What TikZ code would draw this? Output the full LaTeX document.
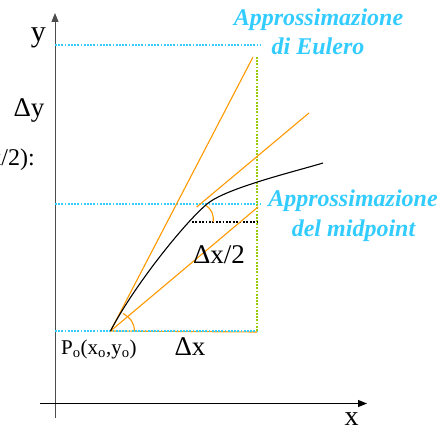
\documentclass[tikz,border=0pt]{standalone}
\usepackage{fontspec}
\setmainfont{Liberation Serif}
\usetikzlibrary{arrows.meta}
\definecolor{skyb}{RGB}{51,204,255}
\definecolor{orng}{RGB}{255,153,0}
\definecolor{grn}{RGB}{153,204,0}
\begin{document}
\begin{tikzpicture}[x=1pt,y=-1pt,
  axis/.style={line width=1pt,-{Triangle[length=9pt,width=7pt]}},
  bluedot/.style={skyb,line width=2pt,dash pattern=on 1.8pt off 1.4pt},
  greendot/.style={grn,line width=2pt,dash pattern=on 1.8pt off 1.4pt},
  blackdot/.style={black,line width=1.8pt,dash pattern=on 1.8pt off 1.6pt},
  oline/.style={orng,line width=1.1pt},
  lbl/.style={inner sep=0pt,anchor=base},
  bluetxt/.style={lbl,text=skyb,font=\fontsize{24}{26}\selectfont\bfseries\itshape},
]
\useasboundingbox (0,0) rectangle (441,425);
% coordinates
\coordinate (yb) at (55,418);
\coordinate (yt) at (55,13);
\coordinate (xl) at (40,403.5);
\coordinate (xr) at (367,403.5);
\coordinate (P) at (110.5,331);
\coordinate (E1) at (253,57);
\coordinate (M1) at (258,207);
\coordinate (T1) at (196.7,207);
\coordinate (T2) at (309,113);
\coordinate (Hr) at (257,332);
\coordinate (Cm) at (207,204);
\coordinate (Ce) at (323,163);
% axes
\draw[axis,black!70] (yb) -- (yt);
\draw[axis] (xl) -- (xr);
% dotted guides
\coordinate (b1l) at (55,45); \coordinate (b1r) at (260,45);
\coordinate (b2l) at (55,204); \coordinate (b2r) at (260,204);
\coordinate (b3l) at (55,330.5); \coordinate (b3r) at (259,330.5);
\coordinate (g1) at (256.7,57); \coordinate (g2) at (256.7,331);
\coordinate (d1) at (192,221.7); \coordinate (d2) at (257,221.7);
\draw[oline] (P) -- (Hr);
\draw[bluedot] (b1l) -- (b1r);
\draw[bluedot] (b2l) -- (b2r);
\draw[bluedot] (b3l) -- (b3r);
\draw[greendot] (g1) -- (g2);
\draw[blackdot] (d1) -- (d2);
% orange lines
\draw[oline] (P) -- (E1);
\draw[oline] (P) -- (M1);
\draw[oline] (T1) -- (T2);
% angle arcs
\draw[oline] (123,313.5) .. controls (131,318) and (134.5,324) .. (134.5,331);
\draw[oline] (205.5,205) .. controls (211.5,209) and (214,215) .. (213.3,222);
% curve
\draw[line width=1.1pt] (P) .. controls (133.5,286.6) and (184,223.3) .. (Cm)
  .. controls (226,188) and (294.3,171.7) .. (Ce);
% labels
\node[lbl,font=\fontsize{30}{32}\selectfont] (ly) at (38.3,41.7) {y};
\node[lbl,font=\fontsize{27}{29}\selectfont] (ldy) at (29,116.7) {Δy};
\node[inner sep=0pt,anchor=base east,font=\fontsize{24}{26}\selectfont] (lhalf) at (35,165) {Δx/2):};
\node[bluetxt] (eu1) at (318.5,26) {Approssimazione};
\node[bluetxt] (eu2) at (318,54.3) {di Eulero};
\node[bluetxt] (mp1) at (353,206.7) {Approssimazione};
\node[bluetxt] (mp2) at (353.5,236) {del midpoint};
\node[lbl,font=\fontsize{27}{29}\selectfont] (ldx2) at (219,263) {Δx/2};
\node[lbl,font=\fontsize{27}{29}\selectfont] (ldx) at (190,355.7) {Δx};
\node[inner sep=0pt,anchor=base west,font=\fontsize{21}{23}\selectfont] (lP) at (61,354) {P\textsubscript{o}(x\textsubscript{o},y\textsubscript{o})};
\node[lbl,font=\fontsize{28}{30}\selectfont] (lx) at (351.7,425) {x};
\end{tikzpicture}
\end{document}
